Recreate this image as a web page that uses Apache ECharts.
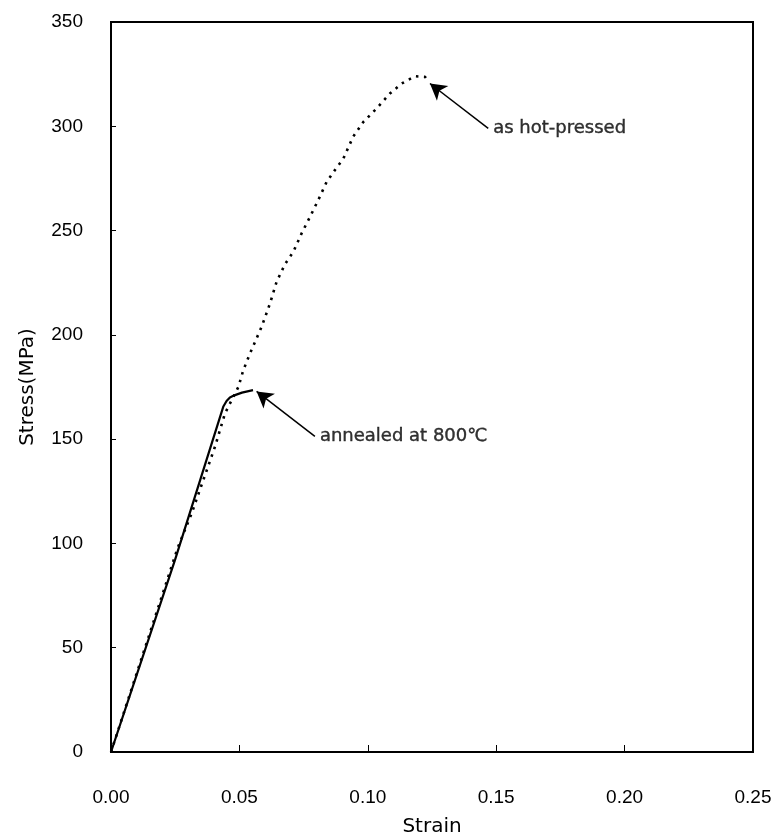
<!DOCTYPE html>
<html>
<head>
<meta charset="utf-8">
<script src="https://cdn.jsdelivr.net/npm/echarts@6/dist/echarts.min.js"></script>
<style>
html,body{margin:0;padding:0;background:#fff;}
#chart{width:774px;height:833px;}
</style>
</head>
<body>
<div id="chart"></div>
<script>
// Data
var xTicks = [0.00, 0.05, 0.10, 0.15, 0.20, 0.25];
var yTicks = [0, 50, 100, 150, 200, 250, 300, 350];

var annealedStrain = [0, 0.0249, 0.0437, 0.0450, 0.0463, 0.0480, 0.0510, 0.0553];
var annealedStress = [0, 92, 165.5, 168.3, 170.0, 171.0, 172.3, 173.5];

var hotStrain = [0, 0.026, 0.0314, 0.0405, 0.0444, 0.0496, 0.0515, 0.0541, 0.0587, 0.0619, 0.0645, 0.0678, 0.071, 0.0742, 0.0775, 0.0807, 0.084, 0.0872, 0.0905, 0.0943, 0.0982, 0.1034, 0.1086, 0.1132, 0.1184, 0.1223, 0.1236];
var hotStress = [0, 98, 114.4, 146.4, 162.4, 175, 183, 191, 204, 215, 225.5, 234, 239.8, 248.6, 256.6, 264.6, 273.4, 279, 284.6, 295, 302, 308.5, 315.7, 320.5, 324, 323.7, 321.3];

var labelNames = ['annealed at 800\u2103', 'as hot-pressed'];
var arrowTail = [[0.0794, 151.3], [0.1469, 299]];
var arrowTip = [[0.0567, 172.9], [0.1242, 320.5]];

function zip(a, b) { return a.map(function (v, i) { return [v, b[i]]; }); }

var chart = echarts.init(document.getElementById('chart'));
var font = 'Liberation Sans, Arial, sans-serif';
var font2 = 'DejaVu Sans, sans-serif';

chart.setOption({
  animation: false,
  backgroundColor: '#fff',
  grid: { left: 111, right: 21, top: 22, bottom: 81, show: true, borderColor: '#000', borderWidth: 2,
    backgroundColor: 'transparent', outerBoundsMode: 'none', containLabel: false },
  xAxis: {
    type: 'value', min: 0, max: 0.25, interval: 0.05,
    name: 'Strain', nameLocation: 'middle', nameGap: 65,
    nameTextStyle: { color: '#000', fontSize: 20, fontFamily: font2 },
    axisLine: { lineStyle: { color: '#000', width: 2 } },
    axisTick: { inside: true, length: 7, lineStyle: { color: '#000', width: 1 } },
    axisLabel: { color: '#000', fontSize: 19, fontFamily: font, margin: 36,
      formatter: function (v) { return v.toFixed(2); } },
    splitLine: { show: false }
  },
  yAxis: {
    type: 'value', min: 0, max: 350, interval: 50,
    name: 'Stress(MPa)', nameLocation: 'middle', nameGap: 73,
    nameTextStyle: { color: '#000', fontSize: 20, fontFamily: font2 },
    axisLine: { lineStyle: { color: '#000', width: 2 } },
    axisTick: { inside: true, length: 5, lineStyle: { color: '#000', width: 1 } },
    axisLabel: { color: '#000', fontSize: 19, fontFamily: font, margin: 28 },
    splitLine: { show: false }
  },
  series: [
    {
      type: 'line', name: 'as hot-pressed', data: zip(hotStrain, hotStress),
      showSymbol: false, symbol: 'none',
      lineStyle: { color: '#000', width: 2.6, type: [2.5, 5.5] }
    },
    {
      type: 'line', name: 'annealed at 800C', data: zip(annealedStrain, annealedStress),
      showSymbol: false, symbol: 'none',
      lineStyle: { color: '#000', width: 2.2, type: 'solid' }
    },
    {
      type: 'line', data: [],
      markLine: {
        silent: true, symbol: ['none', 'arrow'], symbolSize: [14, 16],
        label: { show: false },
        lineStyle: { color: '#000', width: 1.5, type: 'solid' },
        data: arrowTail.map(function (t, i) {
          return [{ coord: t }, { coord: arrowTip[i] }];
        })
      }
    },
    {
      type: 'scatter', symbolSize: 0,
      data: arrowTail.map(function (t, i) { return { value: t, name: labelNames[i] }; }),
      label: { show: true, position: 'right', distance: 5, color: '#000', fontSize: 18, fontFamily: font2,
        textBorderColor: '#000', textBorderWidth: 0.4,
        formatter: function (p) { return p.name; } }
    }
  ]
});
</script>
</body>
</html>
